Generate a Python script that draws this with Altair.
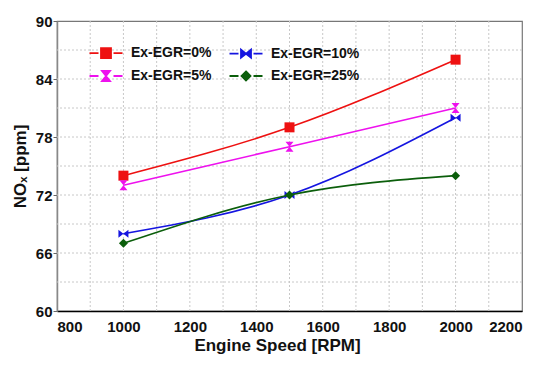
import altair as alt
import pandas as pd

rpm = [1000, 1500, 2000]
series = ["Ex-EGR=0%", "Ex-EGR=5%", "Ex-EGR=10%", "Ex-EGR=25%"]
nox_0 = [74, 79, 86]
nox_5 = [73, 77, 81]
nox_10 = [68, 72, 80]
nox_25 = [67, 72, 74]
colors = ["#ee1111", "#ee11ee", "#1515e0", "#0b5e0b"]
x_ticks = list(range(800, 2201, 200))
y_ticks = list(range(60, 91, 6))
x_grid = list(range(900, 2101, 100))
y_grid = list(range(63, 88, 3))

markers = {
    "Ex-EGR=0%": "M-1,-1H1V1H-1Z",
    "Ex-EGR=5%": "M-0.8,-1H0.8L0,0L0.8,1H-0.8L0,0Z",
    "Ex-EGR=10%": "M-1,-0.8V0.8L0,0Z M1,-0.8V0.8L0,0Z",
    "Ex-EGR=25%": "M0,-0.9L0.9,0L0,0.9L-0.9,0Z",
}
line_seg = "M-3.3,0H-1.5 M1.5,0H3.3 "

rows = []
for s, vals in zip(series, [nox_0, nox_5, nox_10, nox_25]):
    for r, v in zip(rpm, vals):
        rows.append({"rpm": r, "nox": v, "series": s})
df = pd.DataFrame(rows)

leg_color_scale = alt.Scale(domain=series, range=colors)
leg_shape_scale = alt.Scale(domain=series, range=[line_seg + markers[s] for s in series])

x_scale = alt.Scale(domain=[800, 2200], nice=False)
y_scale = alt.Scale(domain=[60, 90], nice=False)

x_enc = alt.X("rpm:Q", scale=x_scale,
              axis=alt.Axis(values=x_ticks, format="d", title="Engine Speed [RPM]",
                            ticks=False, labelPadding=8, titlePadding=3, titleX=220,
                            domainColor="#000", domainWidth=1.5))
y_enc = alt.Y("nox:Q", scale=y_scale,
              axis=alt.Axis(values=y_ticks, title="NOₓ [ppm]", tickSize=4, tickColor="#666",
                            labelPadding=1, titlePadding=6,
                            domainColor="#888", domainWidth=1.5))

grid_style = dict(color="#c8c8c8", strokeDash=[2, 2], strokeWidth=1)
vgrid = alt.Chart(pd.DataFrame({"g": x_grid})).mark_rule(**grid_style).encode(
    x=alt.X("g:Q", scale=x_scale))
hgrid = alt.Chart(pd.DataFrame({"g": y_grid})).mark_rule(**grid_style).encode(
    y=alt.Y("g:Q", scale=y_scale))

series_layers = []
for s, c in zip(series, colors):
    base = alt.Chart(df).transform_filter(alt.datum.series == s)
    series_layers.append(
        base.mark_line(interpolate="monotone", strokeWidth=1.6, color=c).encode(x=x_enc, y=y_enc)
    )
    series_layers.append(
        base.mark_point(filled=True, opacity=1, size=100, shape=markers[s], color=c
                        ).encode(x=x_enc, y=y_enc)
    )

leg = alt.Legend(orient="none", legendX=42, legendY=25, columns=2,
                 columnPadding=13, rowPadding=5, padding=0,
                 labelOffset=18, symbolSize=100, symbolStrokeWidth=1.8,
                 labelFont="Liberation Sans", labelFontWeight="bold",
                 labelFontSize=14, labelColor="#111", symbolOpacity=1)

legend_layer = alt.Chart(df).transform_filter("false").mark_point(
    filled=True, opacity=1, size=100, strokeWidth=1.8
).encode(
    x=x_enc, y=y_enc,
    fill=alt.Fill("series:N", scale=leg_color_scale, title=None, legend=leg),
    stroke=alt.Stroke("series:N", scale=leg_color_scale, title=None, legend=leg),
    shape=alt.Shape("series:N", scale=leg_shape_scale, title=None, legend=leg),
)

chart = alt.layer(vgrid, hgrid, *series_layers, legend_layer).properties(
    width=465, height=290,
    autosize=alt.AutoSizeParams(type="none"),
    padding={"left": 49, "top": 13, "right": 30, "bottom": 46},
    background="white",
).configure_view(
    stroke="#777", strokeWidth=1.2
).configure_axis(
    labelFont="Liberation Sans", labelFontWeight="bold", labelFontSize=15, labelColor="#111",
    titleFont="Liberation Sans", titleFontWeight="bold", titleFontSize=17, titleColor="#111",
    grid=False,
)

chart.save("out.html", embed_options={"renderer": "svg", "actions": False})
